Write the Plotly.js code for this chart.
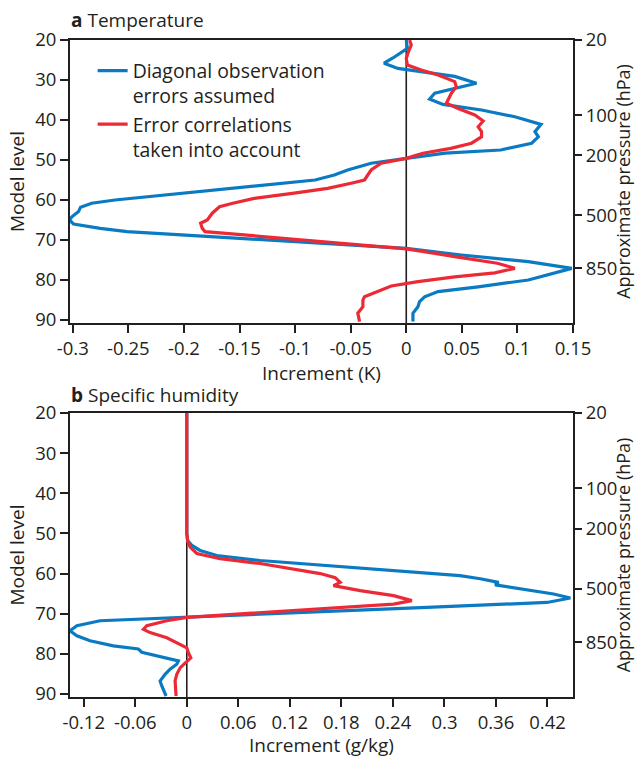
<!DOCTYPE html>
<html>
<head>
<meta charset="utf-8">
<script src="https://cdn.plot.ly/plotly-3.0.1.min.js"></script>
<style>html,body{margin:0;padding:0;background:#fff;}#chart{width:639px;height:758px;}</style>
</head>
<body>
<div id="chart"></div>
<script>
// ---------- Panel a: Temperature increments (K) ----------
const tempDiagLevels = [20, 22.1, 24.5, 25.8, 27.1, 27.9, 29.1, 30.8, 32.1, 33.3, 34.75, 36.1, 37.5, 39.2, 41.1, 42.9, 44.2, 45.8, 47.5, 48.3, 49.6, 50.8, 52.5, 53.75, 55, 56.2, 57.5, 58.75, 60, 60.8, 61.8, 62.9, 64.2, 65, 66, 67.1, 67.9, 68.9, 70, 71.1, 72.1, 73.75, 75.4, 77.1, 78.3, 80, 81.7, 82.9, 84.2, 85.4, 86.7, 88.3, 90.4];
const tempDiagValues = [0.000, 0.001, -0.012, -0.020, -0.0075, 0.0135, 0.0436, 0.0632, 0.0436, 0.0256, 0.021, 0.033, 0.0677, 0.0977, 0.1212, 0.1158, 0.1188, 0.1128, 0.085, 0.035, 0.000, -0.0316, -0.0527, -0.0647, -0.082, -0.125, -0.173, -0.221, -0.262, -0.283, -0.293, -0.2948, -0.3008, -0.303, -0.2994, -0.2753, -0.2512, -0.191, -0.128, -0.062, 0.000, 0.0496, 0.1098, 0.1489, 0.1338, 0.1098, 0.0647, 0.0286, 0.0165, 0.012, 0.0105, 0.006, 0.006];

const tempCorrLevels = [20, 21.25, 22.9, 24.6, 26.25, 27.5, 28.75, 30.4, 31.7, 33.3, 35.8, 37.1, 38.75, 40.25, 41.7, 42.9, 44.2, 45.8, 47.1, 48.3, 49.6, 50.8, 52.5, 55, 55.8, 57.1, 58.3, 59.6, 60.8, 61.7, 63.3, 65, 65.8, 67.1, 67.9, 69, 70, 71.25, 72.2, 74.2, 75.8, 77.1, 78.2, 79.2, 80.4, 81.5, 82.9, 84.2, 85, 86.7, 88.3, 90.4];
const tempCorrValues = [0.003, 0.0045, 0.002, 0.000, 0.001, 0.0135, 0.0286, 0.0436, 0.045, 0.0406, 0.0361, 0.0466, 0.0617, 0.0692, 0.0647, 0.0677, 0.0677, 0.0587, 0.040, 0.015, 0.000, -0.0226, -0.0316, -0.0376, -0.0496, -0.0707, -0.1008, -0.1369, -0.156, -0.168, -0.1745, -0.179, -0.185, -0.1835, -0.181, -0.135, -0.093, -0.040, 0.000, 0.045, 0.082, 0.0977, 0.0797, 0.0436, 0.0105, -0.0135, -0.0256, -0.0376, -0.039, -0.039, -0.0436, -0.042];

// ---------- Panel b: Specific humidity increments (g/kg) ----------
const humDiagLevels = [20, 50, 51.75, 53, 54.25, 55.5, 56.75, 58, 59.25, 60.5, 61.3, 62.2, 62.8, 63.8, 65.1, 66.1, 67.2, 68.4, 69.7, 70.9, 71.75, 73, 74.25, 75.5, 76.75, 78, 78.8, 79.6, 80.5, 81.75, 82.6, 83.8, 85.1, 86.75, 88, 90.5];
const humDiagValues = [0.000, 0.000, 0.001, 0.006, 0.0155, 0.035, 0.0854, 0.163, 0.2407, 0.318, 0.3417, 0.363, 0.359, 0.3883, 0.4271, 0.4466, 0.4194, 0.2796, 0.1242, -0.0117, -0.101, -0.128, -0.136, -0.128, -0.1127, -0.0855, -0.0564, -0.0524, -0.035, -0.0098, -0.0117, -0.0195, -0.0253, -0.0311, -0.0291, -0.0241];

const humCorrLevels = [20, 50, 52, 53.4, 55, 56.3, 57.5, 58.8, 60, 61, 62.2, 63, 64.25, 65.5, 66.75, 67.6, 68.6, 69.7, 70.9, 71.75, 73, 73.9, 74.7, 76, 77.25, 78.5, 79.8, 81, 82.3, 83.5, 85.1, 86.75, 90.5];
const humCorrValues = [0.000, 0.000, 0.001, 0.0039, 0.0117, 0.0388, 0.0854, 0.1242, 0.1553, 0.1728, 0.1786, 0.1708, 0.2019, 0.2407, 0.2621, 0.2407, 0.163, 0.0854, 0.000, -0.0233, -0.0466, -0.0505, -0.0428, -0.0233, -0.0117, 0.000, 0.002, 0.0047, -0.002, -0.0078, -0.0117, -0.0136, -0.0125];

// ---------- Axis ticks ----------
const levelTicks = [20, 30, 40, 50, 60, 70, 80, 90];
const pressureTickLevels = [20, 38.8, 48.8, 63.8, 77.1];
const pressureTickText = ["20", "100", "200", "500", "850"];
const tempTicks = [-0.3, -0.25, -0.2, -0.15, -0.1, -0.05, 0, 0.05, 0.1, 0.15];
const tempTickText = ["-0.3", "-0.25", "-0.2", "-0.15", "-0.1", "-0.05", "0", "0.05", "0.1", "0.15"];
const humTicks = [-0.12, -0.06, 0, 0.06, 0.12, 0.18, 0.24, 0.3, 0.36, 0.42];
const humTickText = ["-0.12", "-0.06", "0", "0.06", "0.12", "0.18", "0.24", "0.3", "0.36", "0.42"];

const seriesNames = ["Diagonal observation<br>errors assumed", "Error correlations<br>taken into account"];

const BLUE = '#0a7bc2';
const RED = '#ec2a36';
const INK = '#231f20';
const FONT = 'Open Sans, sans-serif';

const traces = [
  {x: tempDiagValues, y: tempDiagLevels, xaxis: 'x', yaxis: 'y', type: 'scatter', mode: 'lines',
   name: seriesNames[0], line: {color: BLUE, width: 3.2}, hoverinfo: 'skip'},
  {x: tempCorrValues, y: tempCorrLevels, xaxis: 'x', yaxis: 'y', type: 'scatter', mode: 'lines',
   name: seriesNames[1], line: {color: RED, width: 3.2}, hoverinfo: 'skip'},
  {x: humDiagValues, y: humDiagLevels, xaxis: 'x2', yaxis: 'y2', type: 'scatter', mode: 'lines',
   name: seriesNames[0], showlegend: false, line: {color: BLUE, width: 3.2}, hoverinfo: 'skip'},
  {x: humCorrValues, y: humCorrLevels, xaxis: 'x2', yaxis: 'y2', type: 'scatter', mode: 'lines',
   name: seriesNames[1], showlegend: false, line: {color: RED, width: 3.2}, hoverinfo: 'skip'},
  // carriers for the right-hand pressure axes
  {x: [null], y: [null], xaxis: 'x', yaxis: 'y3', type: 'scatter', mode: 'lines', showlegend: false, hoverinfo: 'skip'},
  {x: [null], y: [null], xaxis: 'x2', yaxis: 'y4', type: 'scatter', mode: 'lines', showlegend: false, hoverinfo: 'skip'}
];

const tickFont = {family: FONT, size: 18.5, color: INK};
const titleFont = {family: FONT, size: 19, color: INK};
const rightTitleFont = {family: FONT, size: 18, color: INK};

function xAxis(anchor, range, vals, text, title) {
  return {
    anchor: anchor, domain: [0, 1], range: range,
    tickmode: 'array', tickvals: vals, ticktext: text,
    ticks: 'outside', ticklen: 8, tickwidth: 2, tickcolor: INK,
    showline: true, linewidth: 2, linecolor: INK, mirror: true,
    showgrid: false, zeroline: false, tickfont: tickFont,
    title: {text: title, font: titleFont, standoff: 2}
  };
}
function yAxis(anchor, domain) {
  return {
    anchor: anchor, domain: domain, range: [90.75, 20],
    tickmode: 'array', tickvals: levelTicks, ticktext: levelTicks.map(String),
    ticks: 'outside', ticklen: 8, tickwidth: 2, tickcolor: INK,
    showline: true, linewidth: 2, linecolor: INK, mirror: true,
    showgrid: false, zeroline: false, tickfont: tickFont,
    title: {text: 'Model level', font: titleFont, standoff: 5}
  };
}
function pAxis(over, anchor) {
  return {
    overlaying: over, anchor: anchor, side: 'right', range: [90.75, 20],
    tickmode: 'array', tickvals: pressureTickLevels, ticktext: pressureTickText,
    ticks: 'outside', ticklen: 8, tickwidth: 2, tickcolor: INK,
    showline: false, showgrid: false, zeroline: false, tickfont: tickFont
  };
}

const domA = [1 - 323 / 758, 1 - 40 / 758];
const domB = [1 - 697 / 758, 1 - 413 / 758];

const layout = {
  width: 639, height: 758,
  margin: {l: 70, r: 66.3, t: 0, b: 0, pad: 0},
  paper_bgcolor: '#ffffff', plot_bgcolor: '#ffffff',
  font: {family: FONT, color: INK, size: 18},
  showlegend: true,
  legend: {
    x: 0.045, y: 0.932, xanchor: 'left', yanchor: 'top',
    bgcolor: 'rgba(0,0,0,0)', borderwidth: 0, valign: 'top',
    font: {family: FONT, size: 19.4, color: INK}, tracegroupgap: 0
  },
  xaxis: xAxis('y', [-0.3025, 0.15], tempTicks, tempTickText, 'Increment (K)'),
  yaxis: yAxis('x', domA),
  xaxis2: xAxis('y2', [-0.136, 0.4497], humTicks, humTickText, 'Increment (g/kg)'),
  yaxis2: yAxis('x2', domB),
  yaxis3: pAxis('y', 'x'),
  yaxis4: pAxis('y2', 'x2'),
  shapes: [
    {type: 'line', xref: 'x', yref: 'y domain', x0: 0, x1: 0, y0: 0, y1: 1, layer: 'below', line: {color: INK, width: 1.6}},
    {type: 'line', xref: 'x2', yref: 'y2 domain', x0: 0, x1: 0, y0: 0, y1: 1, layer: 'below', line: {color: INK, width: 1.6}}
  ],
  annotations: [
    {text: '<b>a</b> Temperature', xref: 'paper', yref: 'paper', x: -0.002, y: 1 - 20 / 758,
     xanchor: 'left', yanchor: 'middle', showarrow: false, font: {family: FONT, size: 19, color: INK}},
    {text: '<b>b</b> Specific humidity', xref: 'paper', yref: 'paper', x: -0.002, y: 1 - 395 / 758,
     xanchor: 'left', yanchor: 'middle', showarrow: false, font: {family: FONT, size: 19, color: INK}},
    {text: 'Approximate pressure (hPa)', xref: 'paper', yref: 'paper', x: (623 - 70) / 502.7, y: 1 - 181.5 / 758,
     xanchor: 'center', yanchor: 'middle', textangle: -90, showarrow: false, font: rightTitleFont},
    {text: 'Approximate pressure (hPa)', xref: 'paper', yref: 'paper', x: (623 - 70) / 502.7, y: 1 - 555 / 758,
     xanchor: 'center', yanchor: 'middle', textangle: -90, showarrow: false, font: rightTitleFont}
  ]
};

Plotly.newPlot('chart', traces, layout, {staticPlot: true, displayModeBar: false});
</script>
</body>
</html>
